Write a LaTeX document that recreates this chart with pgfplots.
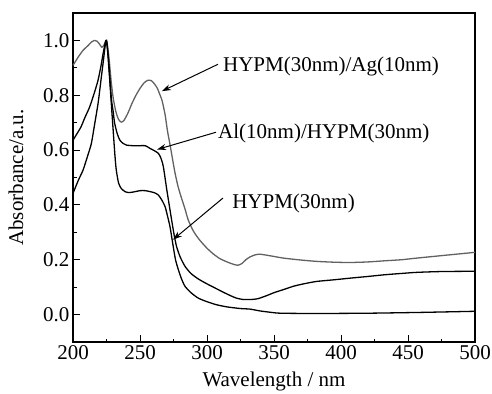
\documentclass[border=0pt]{standalone}
\usepackage{fontspec}
\setmainfont{Liberation Serif}
\usepackage{pgfplots}
\pgfplotsset{compat=1.18}
\usetikzlibrary{arrows.meta}
\definecolor{agray}{gray}{0.38}
\begin{document}
\begin{tikzpicture}[font=\fontsize{21bp}{25bp}\selectfont]
\useasboundingbox (0,0) rectangle (492bp,394bp);
\begin{axis}[
  at={(73bp,52bp)}, anchor=south west,
  scale only axis, width=402bp, height=329bp,
  xmin=200, xmax=500, ymin=-0.1, ymax=1.1,
  xtick={200,250,...,500}, ytick={0,0.2,...,1.0},
  minor x tick num=1, minor y tick num=1,
  tick pos=left, tick align=inside,
  major tick length=7bp, minor tick length=3.5bp,
  axis line style={line width=1.2bp},
  every tick/.style={line width=1bp, black},
  /pgf/number format/assume math mode=true,
  yticklabel style={/pgf/number format/.cd, fixed, fixed zerofill, precision=1},
  xticklabel style={/pgf/number format/.cd, fixed},
  xlabel={Wavelength / nm},
  ylabel={Absorbance/a.u.},
  xlabel style={at={(axis description cs:0.5,-0.1185)}, anchor=center},
  ylabel style={at={(axis description cs:-0.142,0.5)}, anchor=center},
  clip=false,
]
% HYPM(30nm)/Ag(10nm) - gray
\addplot[agray, line width=1.3bp, smooth, tension=0.4] coordinates {
(200,0.909) (204,0.94) (207.5,0.964) (211,0.98) (214,0.995) (216,1.0) (218,0.997) (220,0.985) (221.5,0.975) (223,0.982) (224.5,0.998) (225.5,0.99) (227,0.93) (228.5,0.85) (230,0.79) (232,0.74) (234,0.712) (236,0.702) (238,0.708) (241,0.735) (244,0.77) (247,0.80) (250,0.825) (253,0.845) (256,0.855) (258.5,0.853) (261,0.84) (263,0.825) (265,0.80) (266.5,0.78) (268.7,0.73) (270.5,0.67) (272.4,0.62) (274,0.575) (276,0.52) (278,0.475) (280,0.44) (283.6,0.385) (286,0.345) (289.8,0.305) (294,0.275) (299.8,0.243) (305,0.22) (310,0.203) (316,0.19) (320,0.183) (323,0.18) (326,0.186) (329,0.2) (332,0.21) (336,0.218) (340,0.22) (350,0.212) (357,0.206) (370,0.199) (382,0.194) (395,0.191) (407,0.19) (420,0.192) (432,0.196) (445,0.2) (456.5,0.206) (475,0.215) (500,0.227)
};
% Al(10nm)/HYPM(30nm)
\addplot[black, line width=1.3bp, smooth, tension=0.4] coordinates {
(200,0.636) (203,0.66) (206,0.685) (209,0.72) (212.4,0.757) (216,0.81) (218.7,0.855) (221,0.91) (222.4,0.95) (224,0.99) (225,1.0) (226.5,0.93) (228.6,0.79) (230,0.74) (231,0.70) (233,0.66) (235,0.636) (237.5,0.624) (240,0.618) (245,0.616) (250,0.616) (254,0.616) (257.5,0.606) (261,0.597) (263.7,0.588) (265.5,0.572) (267.4,0.54) (270,0.455) (271.8,0.4) (273.6,0.345) (275.5,0.29) (277.3,0.248) (280,0.21) (283.6,0.176) (288,0.15) (293.5,0.13) (300,0.112) (306,0.097) (312,0.082) (318,0.068) (322,0.06) (327,0.055) (333,0.055) (338,0.058) (345,0.07) (350,0.08) (357,0.091) (365,0.104) (373,0.113) (382,0.121) (395,0.127) (407,0.133) (420,0.139) (432,0.145) (445,0.15) (456.5,0.154) (475,0.157) (500,0.158)
};
% HYPM(30nm)
\addplot[black, line width=1.3bp, smooth, tension=0.4] coordinates {
(200,0.442) (204,0.49) (207.5,0.527) (211,0.58) (213.7,0.624) (216,0.69) (218.7,0.77) (221,0.86) (222.4,0.915) (224,0.98) (225,1.0) (226,0.95) (227.4,0.855) (229,0.74) (230,0.67) (231.3,0.58) (232.3,0.527) (234,0.48) (236,0.46) (239,0.448) (242,0.445) (246,0.448) (250,0.452) (254,0.452) (258,0.448) (261,0.444) (263.7,0.436) (266,0.42) (268.7,0.394) (270.5,0.36) (272.4,0.32) (274.8,0.248) (276.5,0.2) (278.6,0.164) (281,0.13) (283.6,0.103) (288,0.08) (293.5,0.06) (300,0.047) (307,0.036) (315,0.028) (325,0.022) (332,0.02) (340,0.013) (348,0.008) (355,0.005) (380,0.004) (420,0.005) (460,0.008) (500,0.012)
};
% annotations
\draw[line width=1bp, -{Stealth[length=9bp,width=6bp]}] (axis cs:308.2,0.913) -- (axis cs:266.4,0.815);
\draw[line width=1bp, -{Stealth[length=9bp,width=6bp]}] (axis cs:306.7,0.665) -- (axis cs:262.7,0.602);
\draw[line width=1bp, -{Stealth[length=9bp,width=6bp]}] (axis cs:311.9,0.425) -- (axis cs:274.6,0.273);
\node[anchor=west, inner sep=0pt] at (axis cs:311.9,0.905) {HYPM(30nm)/Ag(10nm)};
\node[anchor=west, inner sep=0pt] at (axis cs:308.2,0.662) {Al(10nm)/HYPM(30nm)};
\node[anchor=west, inner sep=0pt] at (axis cs:318.7,0.407) {HYPM(30nm)};
\end{axis}
\end{tikzpicture}
\end{document}
